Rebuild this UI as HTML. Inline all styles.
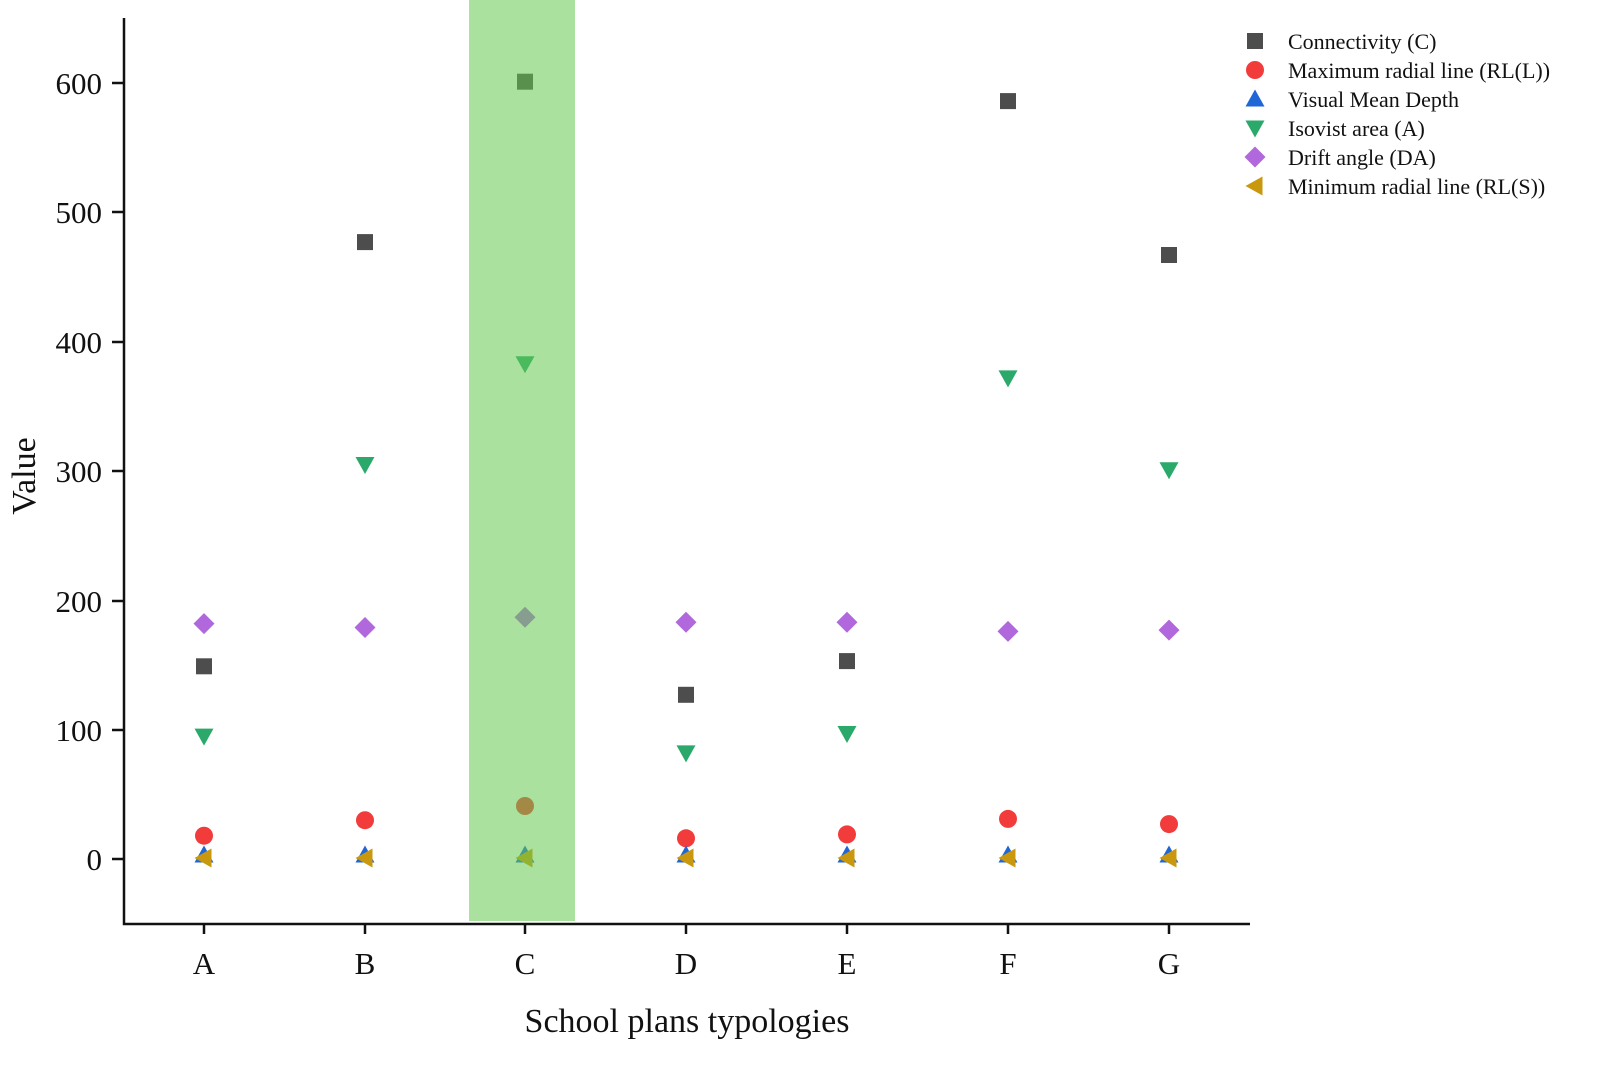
<!DOCTYPE html>
<html><head><style>body{margin:0;background:#fff}svg{display:block}text{font-family:"Liberation Serif",serif;fill:#111}</style></head>
<body>
<svg width="1600" height="1076" viewBox="0 0 1600 1076" xmlns="http://www.w3.org/2000/svg">
<defs>
<rect id="sq" x="-8" y="-8" width="16" height="16" fill="#4d4d4d"/>
<circle id="ci" r="9" fill="#f23b3b"/>
<path id="tu" d="M0,-9.5 L9.5,7.5 L-9.5,7.5Z" fill="#1f66d6"/>
<path id="td" d="M0,9.5 L9.5,-7.5 L-9.5,-7.5Z" fill="#2aa96a"/>
<path id="di" d="M0,-10.5 L10.5,0 L0,10.5 L-10.5,0Z" fill="#b068dc"/>
<path id="tl" d="M-9.5,0 L7.5,-9.5 L7.5,9.5Z" fill="#c9980e"/>
</defs>
<g>
<use href="#sq" x="204" y="666.3"/><use href="#sq" x="365" y="242.1"/><use href="#sq" x="525" y="81.7"/><use href="#sq" x="686" y="694.8"/><use href="#sq" x="847" y="661.1"/><use href="#sq" x="1008" y="101.1"/><use href="#sq" x="1169" y="255"/>
<use href="#ci" x="204" y="835.7"/><use href="#ci" x="365" y="820.2"/><use href="#ci" x="525" y="806"/><use href="#ci" x="686" y="838.3"/><use href="#ci" x="847" y="834.4"/><use href="#ci" x="1008" y="818.9"/><use href="#ci" x="1169" y="824.1"/>
<use href="#tu" x="204" y="855"/><use href="#tu" x="365" y="855"/><use href="#tu" x="525" y="855"/><use href="#tu" x="686" y="855"/><use href="#tu" x="847" y="855"/><use href="#tu" x="1008" y="855"/><use href="#tu" x="1169" y="855"/>
<use href="#td" x="204" y="736.1"/><use href="#td" x="365" y="464.5"/><use href="#td" x="525" y="363.7"/><use href="#td" x="686" y="752.9"/><use href="#td" x="847" y="733.5"/><use href="#td" x="1008" y="377.9"/><use href="#td" x="1169" y="469.7"/>
<use href="#di" x="204" y="623.6"/><use href="#di" x="365" y="627.5"/><use href="#di" x="525" y="617.2"/><use href="#di" x="686" y="622.3"/><use href="#di" x="847" y="622.3"/><use href="#di" x="1008" y="631.4"/><use href="#di" x="1169" y="630.1"/>
<use href="#tl" x="204" y="858"/><use href="#tl" x="365" y="858"/><use href="#tl" x="525" y="858"/><use href="#tl" x="686" y="858"/><use href="#tl" x="847" y="858"/><use href="#tl" x="1008" y="858"/><use href="#tl" x="1169" y="858"/>
</g>
<rect x="469" y="0" width="106" height="921" fill="rgb(100,200,80)" fill-opacity="0.55"/>
<g stroke="#111" stroke-width="2.5" fill="none">
<path d="M124,18 V924 H1250"/>
<path d="M112,83 H124 M112,212 H124 M112,342 H124 M112,471 H124 M112,601 H124 M112,730 H124 M112,859 H124"/>
<path d="M204,924 v10 M365,924 v10 M525,924 v10 M686,924 v10 M847,924 v10 M1008,924 v10 M1169,924 v10"/>
</g>
<g font-size="31" text-anchor="end">
<text x="102" y="94">600</text><text x="102" y="223">500</text><text x="102" y="353">400</text><text x="102" y="482">300</text><text x="102" y="612">200</text><text x="102" y="741">100</text><text x="102" y="870">0</text>
</g>
<g font-size="31" text-anchor="middle">
<text x="204" y="974">A</text><text x="365" y="974">B</text><text x="525" y="974">C</text><text x="686" y="974">D</text><text x="847" y="974">E</text><text x="1008" y="974">F</text><text x="1169" y="974">G</text>
</g>
<text x="687" y="1032" font-size="34" text-anchor="middle">School plans typologies</text>
<text transform="translate(35,476) rotate(-90)" font-size="34" text-anchor="middle">Value</text>
<g font-size="22">
<use href="#sq" x="1255" y="41"/><text x="1288" y="49">Connectivity (C)</text>
<use href="#ci" x="1255" y="70"/><text x="1288" y="78">Maximum radial line (RL(L))</text>
<use href="#tu" x="1255" y="99"/><text x="1288" y="107">Visual Mean Depth</text>
<use href="#td" x="1255" y="128"/><text x="1288" y="136">Isovist area (A)</text>
<use href="#di" x="1255" y="157"/><text x="1288" y="165">Drift angle (DA)</text>
<use href="#tl" x="1255" y="186"/><text x="1288" y="194">Minimum radial line (RL(S))</text>
</g>
</svg>
</body></html>
